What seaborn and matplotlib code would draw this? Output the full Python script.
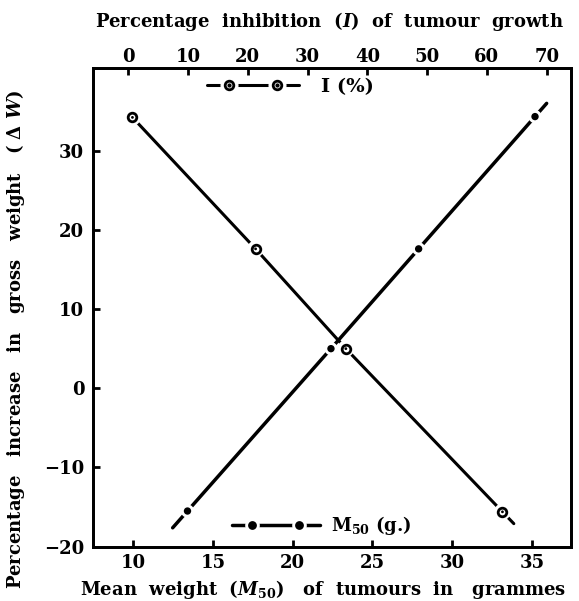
import matplotlib.pyplot as plt
import seaborn as sns
import numpy as np
import pandas as pd
from matplotlib.lines import Line2D
from matplotlib.legend_handler import HandlerLine2D, HandlerTuple

# values
m50 = [13.4, 22.4, 27.9, 35.2]            # mean weight of tumours (g)
dw_m50 = [-15.5, 5.0, 17.6, 34.3]         # % increase in gross weight
inhib = [0.7, 21.3, 36.4, 62.6]           # % inhibition of tumour growth
dw_inhib = [34.2, 17.6, 5.0, -15.6]
m50_ticks = [10, 15, 20, 25, 30, 35]
inhib_ticks = [0, 10, 20, 30, 40, 50, 60, 70]
dw_ticks = [-20, -10, 0, 10, 20, 30]

sns.set_style('ticks', rc={'axes.edgecolor': 'black', 'xtick.color': 'black',
                           'ytick.color': 'black', 'text.color': 'black',
                           'axes.labelcolor': 'black'})
plt.rcParams['font.family'] = ['DejaVu Serif']
plt.rcParams['font.weight'] = 'bold'
plt.rcParams['mathtext.fontset'] = 'custom'
plt.rcParams['mathtext.rm'] = 'DejaVu Serif:bold'
plt.rcParams['mathtext.it'] = 'DejaVu Serif:italic:bold'
plt.rcParams['mathtext.bf'] = 'DejaVu Serif:bold'

FS = 13


def extend(x, y, before, after):
    # carry the end segments of a series a little past its first/last point
    x = np.asarray(x, float)
    y = np.asarray(y, float)
    s0 = (y[1] - y[0]) / (x[1] - x[0])
    s1 = (y[-1] - y[-2]) / (x[-1] - x[-2])
    xs = np.r_[x[0] - before, x, x[-1] + after]
    ys = np.r_[y[0] - before * s0, y, y[-1] + after * s1]
    return xs, ys


fig = plt.figure(figsize=(5.79, 6.01), dpi=100)
ax = fig.add_axes([0.160, 0.0904, 0.8257, 0.796])
ax2 = ax.twiny()

df_m = pd.DataFrame({'m50': m50, 'dw': dw_m50})
df_i = pd.DataFrame({'inhib': inhib, 'dw': dw_inhib})

# M50 line (bottom axis)
xm, ym = extend(m50, dw_m50, 0.93, 0.73)
sns.lineplot(x=xm, y=ym, sort=False, color='black', lw=2.5, ax=ax, zorder=2)
sns.scatterplot(data=df_m, x='m50', y='dw', s=9.5**2, color='white', edgecolor='none', ax=ax, zorder=3)
sns.scatterplot(data=df_m, x='m50', y='dw', s=5.3**2, color='black', edgecolor='none', ax=ax, zorder=4)

# I line (top axis)
xi, yi = extend(inhib, dw_inhib, 0.0, 1.9)
sns.lineplot(x=xi, y=yi, sort=False, color='black', lw=2.2, ax=ax2, zorder=2)
sns.scatterplot(data=df_i, x='inhib', y='dw', s=12**2, color='white', edgecolor='none', ax=ax2, zorder=3)
sns.scatterplot(data=df_i, x='inhib', y='dw', s=6.2**2, color='white', edgecolor='black', linewidth=2.0, ax=ax2, zorder=4)
sns.scatterplot(data=df_i, x='inhib', y='dw', s=2.0**2, color='black', edgecolor='none', ax=ax2, zorder=5)

ax.set_xlim(7.45, 37.44)
ax2.set_xlim(-5.96, 74.02)
ax.set_ylim(-20.0, 40.4)

ax.set_xticks(m50_ticks)
ax.set_yticks(dw_ticks)
ax2.set_xticks(inhib_ticks)
ax.set_xticklabels([str(t) for t in m50_ticks], fontsize=FS, fontweight='bold')
ax.set_yticklabels([str(t).replace('-', '\u2212') for t in dw_ticks], fontsize=FS, fontweight='bold')
ax2.set_xticklabels([str(t) for t in inhib_ticks], fontsize=FS, fontweight='bold')

ax.tick_params(axis='x', direction='in', length=5, width=2, pad=5.5)
ax.tick_params(axis='y', direction='in', length=5, width=2, pad=6)
ax2.tick_params(axis='x', direction='in', length=5, width=2, pad=1.5)
for a in (ax, ax2):
    for sp in a.spines.values():
        sp.set_linewidth(2)
        sp.set_visible(True)

ax.set_xlabel(r'Mean  weight  $(M_{50})$   of  tumours  in   grammes', fontsize=FS, fontweight='bold')
ax.xaxis.set_label_coords(0.483, -0.066)
ax2.set_xlabel(r'Percentage  inhibition  $(I)$  of  tumour  growth', fontsize=FS, fontweight='bold')
ax2.xaxis.set_label_coords(0.496, 1.086)
ax.set_ylabel('Percentage   increase   in   gross   weight   ( \u0394 $W$)', fontsize=FS, fontweight='bold')
ax.yaxis.set_label_coords(-0.137, 0.434)

# legends: line sample with two markers, line running a bit past them
i_line = Line2D([], [], color='black', lw=2.2)
i_halo = Line2D([], [], ls='none', marker='o', ms=12, mfc='white', mec='white')
i_ring = Line2D([], [], ls='none', marker='o', ms=6.2, mfc='white', mec='black', mew=2.0)
i_dot = Line2D([], [], ls='none', marker='o', ms=2.0, mfc='black', mec='black')
m_line = Line2D([], [], color='black', lw=2.5)
m_halo = Line2D([], [], ls='none', marker='o', ms=9.5, mfc='white', mec='white')
m_dot = Line2D([], [], ls='none', marker='o', ms=5.3, mfc='black', mec='black')

hmap = {tuple: HandlerTuple(ndivide=1, pad=0)}
for h in (i_line, m_line):
    hmap[h] = HandlerLine2D(marker_pad=0, numpoints=2)
for h in (i_halo, i_ring, i_dot, m_halo, m_dot):
    hmap[h] = HandlerLine2D(marker_pad=1.15, numpoints=2)

leg_i = ax2.legend(handles=[(i_line, i_halo, i_ring, i_dot)], labels=['I (%)'],
                   handler_map=hmap, loc='center left', bbox_to_anchor=(0.2385, 0.9603),
                   frameon=False, borderpad=0, borderaxespad=0, handlelength=4.76,
                   handletextpad=1.1, prop={'size': FS + 1, 'weight': 'bold'})
leg_m = ax.legend(handles=[(m_line, m_halo, m_dot)], labels=[r'M$_{50}$ (g.)'],
                  handler_map=hmap, loc='center left', bbox_to_anchor=(0.2908, 0.0439),
                  frameon=False, borderpad=0, borderaxespad=0, handlelength=4.9,
                  handletextpad=0.6, prop={'size': FS, 'weight': 'bold'})

fig.savefig('out.png', dpi=100, facecolor='white')
